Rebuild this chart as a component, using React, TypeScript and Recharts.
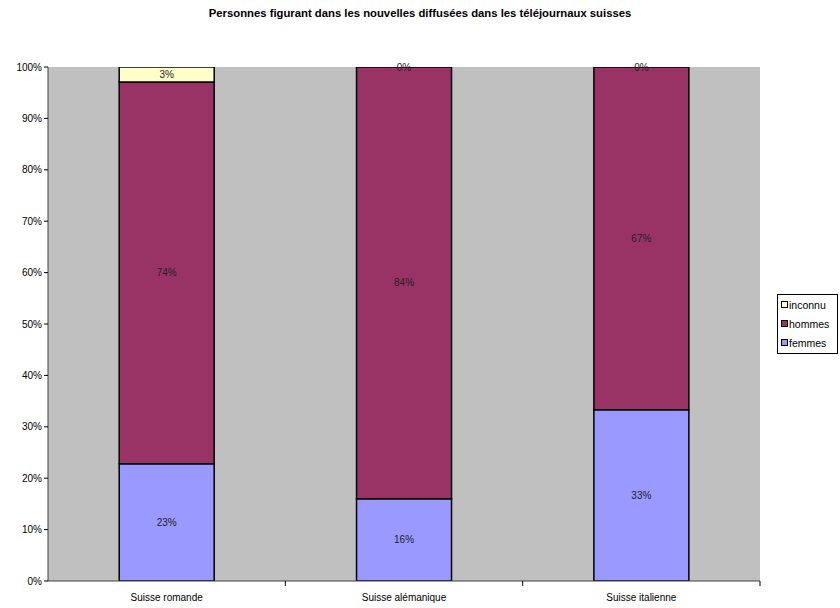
import React from 'react';
import { BarChart, Bar, XAxis, YAxis, CartesianGrid, LabelList } from 'recharts';

const regions = ['Suisse romande', 'Suisse alémanique', 'Suisse italienne'];
const femmes = [22.8, 16.0, 33.3];
const hommes = [74.3, 84.0, 66.7];
const inconnu = [2.9, 0, 0];
const yTicks = [0, 10, 20, 30, 40, 50, 60, 70, 80, 90, 100];

const data = regions.map((name, i) => ({ name, femmes: femmes[i], hommes: hommes[i], inconnu: inconnu[i] }));

const W = 840;
const H = 608;
const margin = { top: 67, right: 80, bottom: 0, left: 0 };
const yWidth = 48;
const band = (W - margin.right - yWidth) / regions.length;
const font = '"Liberation Sans", Arial, sans-serif';

const legendItems = [
  { key: 'inconnu', color: '#FFFFCC' },
  { key: 'hommes', color: '#993366' },
  { key: 'femmes', color: '#9999FF' },
];

function XTick(props: any) {
  const { x, y, payload } = props;
  return (
    <g>
      <line x1={x + band / 2} y1={y - 8} x2={x + band / 2} y2={y - 3} stroke="#000" />
      <text x={x} y={y + 12} textAnchor="middle" fontSize={10} fill="#000" fontFamily={font}>
        {payload.value}
      </text>
    </g>
  );
}

// hommes label; also prints the 0% of an empty "inconnu" segment on top of the stack
function HommesLabel(props: any) {
  const { x, y, width, height, index } = props;
  const cx = x + width / 2;
  return (
    <g fontSize={10} fontFamily={font} fill="#222" textAnchor="middle">
      <text x={cx} y={y + height / 2} dy="0.35em">{`${Math.round(hommes[index])}%`}</text>
      {inconnu[index] === 0 && <text x={cx} y={y} dy="0.35em">0%</text>}
    </g>
  );
}

function LegendBox() {
  return (
    <div style={{ position: 'absolute', left: 777, top: 294, width: 61, height: 60, boxSizing: 'border-box', border: '1px solid #000', background: '#fff', fontFamily: font, fontSize: 10.5, paddingLeft: 3, paddingTop: 0 }}>
      {legendItems.map((it) => (
        <div key={it.key} style={{ display: 'flex', alignItems: 'center', height: 19 }}>
          <span style={{ width: 5, height: 5, background: it.color, border: '1.5px solid #000', marginRight: 1, display: 'inline-block' }} />
          <span>{it.key}</span>
        </div>
      ))}
    </div>
  );
}

const pct = (v: any) => `${Math.round(Number(v))}%`;

export default function App() {
  return (
    <div style={{ position: 'absolute', left: 0, top: 0, width: W, height: H, background: '#fff' }}>
      <div style={{ position: 'absolute', top: 7, width: W, textAlign: 'center', fontFamily: font, fontWeight: 'bold', fontSize: 11.3 }}>
        Personnes figurant dans les nouvelles diffusées dans les téléjournaux suisses
      </div>
      <BarChart width={W} height={H} data={data} margin={margin} barCategoryGap="30%">
        <CartesianGrid horizontal={false} vertical={false} fill="#C0C0C0" />
        <XAxis dataKey="name" height={27} tickLine={false} tick={<XTick />} axisLine={{ stroke: '#404040' }} interval={0} />
        <YAxis
          width={yWidth}
          domain={[0, 100]}
          ticks={yTicks}
          tickFormatter={(v) => `${v}%`}
          tick={{ fontSize: 10, fill: '#000', fontFamily: font }}
          tickSize={4}
          tickLine={{ stroke: '#000' }}
          axisLine={{ stroke: '#404040' }}
          allowDataOverflow
        />
        <Bar dataKey="femmes" stackId="a" fill="#9999FF" stroke="#000" strokeWidth={1.5} isAnimationActive={false}>
          <LabelList dataKey="femmes" position="center" formatter={pct} fill="#222" fontSize={10} fontFamily={font} />
        </Bar>
        <Bar dataKey="hommes" stackId="a" fill="#993366" stroke="#000" strokeWidth={1.5} isAnimationActive={false}>
          <LabelList dataKey="hommes" content={<HommesLabel />} />
        </Bar>
        <Bar dataKey="inconnu" stackId="a" fill="#FFFFCC" stroke="#000" strokeWidth={1.5} isAnimationActive={false}>
          <LabelList dataKey="inconnu" position="center" formatter={pct} fill="#222" fontSize={10} fontFamily={font} />
        </Bar>
      </BarChart>
      <LegendBox />
    </div>
  );
}
